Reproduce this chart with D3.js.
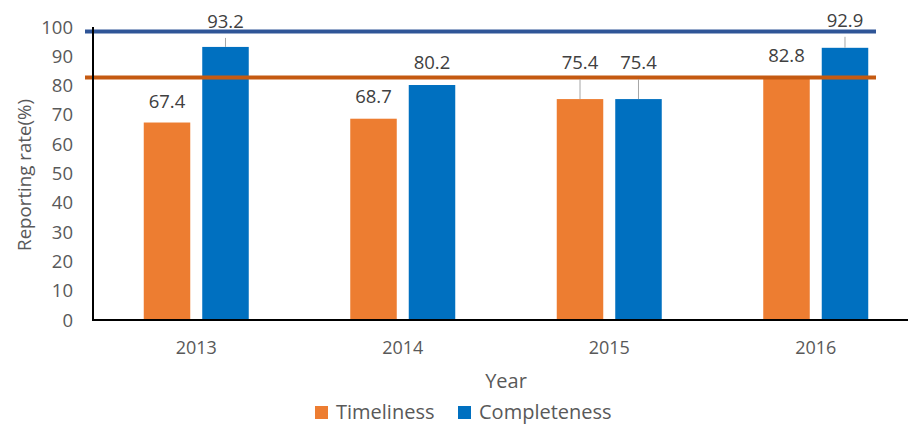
<!DOCTYPE html>
<html><head><meta charset="utf-8">
<script src="https://cdn.jsdelivr.net/npm/d3@7/dist/d3.min.js"></script>
<style>body{margin:0;background:#fff}svg{display:block;font-family:"Open Sans","Noto Sans",sans-serif}</style>
</head><body><svg id="c" width="908" height="424"></svg>
<script>
const categories = ["2013","2014","2015","2016"];
const seriesNames = ["Timeliness","Completeness"];
const timeliness = [67.4, 68.7, 75.4, 82.8];
const completeness = [93.2, 80.2, 75.4, 92.9];
const yTicks = [0,10,20,30,40,50,60,70,80,90,100];
const refLines = [98.5, 82.8];

const colors = ["#ED7D31","#0070C0"];
const refColors = ["#2F5597","#C55A11"];
// label offsets (px above bar top) and whether a leader line is drawn
const labelLift = [[14.5,15.5,30,15],[19,16,30,21]];
const leader = [[false,false,true,false],[true,false,true,true]];

const svg = d3.select("#c");
const y = d3.scaleLinear().domain([0,100]).range([320,27]);
const x = d3.scaleBand().domain(categories).range([93,919]);
const xs = d3.scaleBand().domain(seriesNames).range([0,105]).paddingInner(0.205);
const series = [timeliness, completeness];
const bx = (i,si)=>x(categories[i])+x.bandwidth()/2-52.5+xs(seriesNames[si]);

// y tick labels
svg.append("g").selectAll("text").data(yTicks).join("text")
  .attr("x",73).attr("y",d=>y(d)+6.5).attr("text-anchor","end")
  .attr("font-size",18.5).attr("fill","#595959").text(d=>d);

// bars
series.forEach((vals,si)=>{
  svg.append("g").selectAll("rect").data(vals).join("rect")
    .attr("x",(d,i)=>bx(i,si))
    .attr("width",xs.bandwidth())
    .attr("y",d=>y(d)).attr("height",d=>y(0)-y(d))
    .attr("fill",colors[si]);
});

// reference lines
refLines.forEach((v,i)=>{
  svg.append("line").attr("x1",85).attr("x2",876).attr("y1",y(v)).attr("y2",y(v))
    .attr("stroke",refColors[i]).attr("stroke-width",4);
});

// axes lines
svg.append("line").attr("x1",93).attr("x2",93).attr("y1",27).attr("y2",321).attr("stroke","#000").attr("stroke-width",2);
svg.append("line").attr("x1",92).attr("x2",908).attr("y1",320).attr("y2",320).attr("stroke","#000").attr("stroke-width",2);

// data labels
series.forEach((vals,si)=>{
  vals.forEach((d,i)=>{
    const cx = bx(i,si)+xs.bandwidth()/2;
    const by = y(d)-labelLift[si][i];
    if(leader[si][i]){
      svg.append("line").attr("x1",cx).attr("x2",cx).attr("y1",by+10).attr("y2",y(d))
        .attr("stroke","#A6A6A6").attr("stroke-width",1);
    }
    svg.append("text").attr("x",cx).attr("y",by).attr("text-anchor","middle")
      .attr("font-size",18.5).attr("fill","#404040").text(d.toFixed(1));
  });
});

// x tick labels
svg.append("g").selectAll("text").data(categories).join("text")
  .attr("x",d=>x(d)+x.bandwidth()/2).attr("y",354).attr("text-anchor","middle")
  .attr("font-size",18).attr("fill","#595959").text(d=>d);

// axis titles
svg.append("text").attr("x",506).attr("y",388).attr("text-anchor","middle")
  .attr("font-size",20).attr("fill","#595959").text("Year");
svg.append("text").attr("transform","translate(31,175) rotate(-90)").attr("text-anchor","middle")
  .attr("font-size",18.7).attr("fill","#595959").text("Reporting rate(%)");

// legend
const lg = svg.append("g");
const lx = [315,458];
seriesNames.forEach((n,i)=>{
  lg.append("rect").attr("x",lx[i]).attr("y",406).attr("width",13).attr("height",13).attr("fill",colors[i]);
  lg.append("text").attr("x",lx[i]+21).attr("y",419).attr("font-size",20).attr("fill","#595959").text(n);
});
</script></body></html>
